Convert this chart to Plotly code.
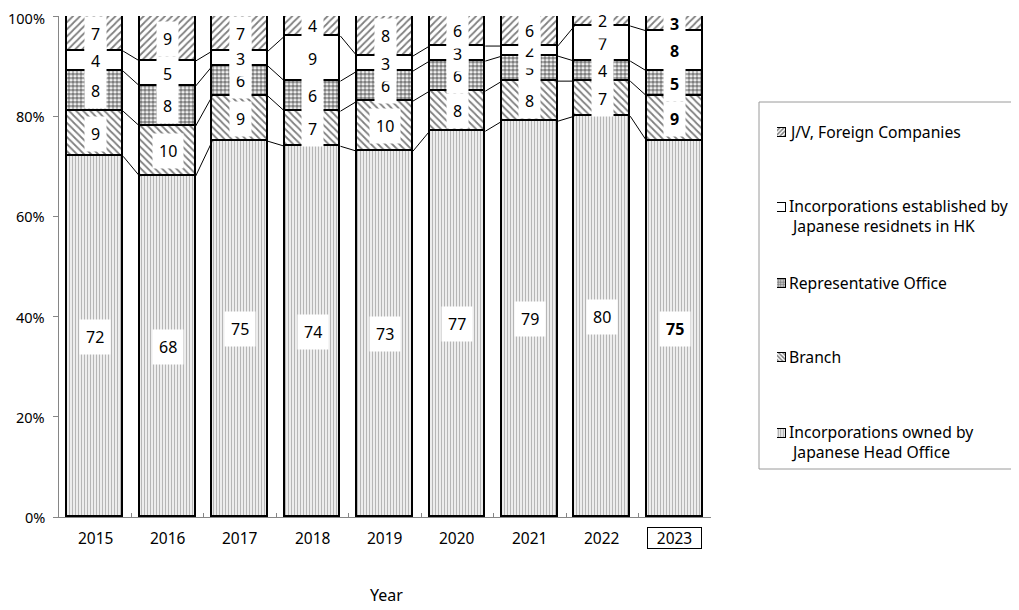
import plotly.graph_objects as go

years = ["2015", "2016", "2017", "2018", "2019", "2020", "2021", "2022", "2023"]
head_office = [72, 68, 75, 74, 73, 77, 79, 80, 75]
branch = [9, 10, 9, 7, 10, 8, 8, 7, 9]
rep_office = [8, 8, 6, 6, 6, 6, 5, 4, 5]
residents = [4, 5, 3, 9, 3, 3, 2, 7, 8]
jv_foreign = [7, 9, 7, 4, 8, 6, 6, 2, 3]

series_names = [
    "Incorporations owned by<br>&nbsp;Japanese Head Office",
    "Branch",
    "Representative Office",
    "Incorporations established by<br>&nbsp;Japanese residnets in HK",
    "J/V, Foreign Companies",
]
y_ticks = [0, 20, 40, 60, 80, 100]
y_tick_labels = ["0%", "20%", "40%", "60%", "80%", "100%"]

FONT = "Noto Sans"
OFF = 8  # page body margin
W, H = 1011, 602
ML, MR, MT, MB = 51, 0, 8, 93
PW = W - ML - MR
PH = H - MT - MB


def px_x(px):
    return (px - OFF - ML) / PW


def px_y(py):
    return (H - MB - (py - OFF)) / PH


series = [head_office, branch, rep_office, residents, jv_foreign]
patterns = [
    dict(shape="|", fgcolor="#6e6e6e", bgcolor="white", size=3, solidity=0.5),
    dict(shape="\\", fgcolor="black", bgcolor="white", size=5, solidity=0.35),
    dict(shape=".", fgcolor="black", bgcolor="white", size=4, solidity=0.68),
    dict(shape="", fgcolor="black", bgcolor="white"),
    dict(shape="/", fgcolor="black", bgcolor="white", size=5, solidity=0.35),
]
swatch_patterns = [
    dict(shape="|", fgcolor="#444444", bgcolor="white", size=2.5, solidity=0.5),
    dict(shape="\\", fgcolor="black", bgcolor="white", size=3, solidity=0.5),
    dict(shape=".", fgcolor="black", bgcolor="white", size=2.5, solidity=0.7),
    dict(shape="", fgcolor="black", bgcolor="white"),
    dict(shape="/", fgcolor="black", bgcolor="white", size=3, solidity=0.5),
]

BW = 0.77
xs = list(range(len(years)))

fig = go.Figure()

# series lines (between bars)
cum = [0] * len(years)
tops = []
for s in series:
    cum = [c + v for c, v in zip(cum, s)]
    tops.append(list(cum))
for t in tops[:-1]:
    lx, ly = [], []
    for i in range(len(years) - 1):
        lx += [xs[i] + BW / 2, xs[i + 1] - BW / 2, None]
        ly += [t[i], t[i + 1], None]
    fig.add_trace(go.Scatter(x=lx, y=ly, mode="lines", line=dict(color="black", width=1),
                             showlegend=False, hoverinfo="skip"))

for name, s, pat in zip(series_names, series, patterns):
    fig.add_trace(go.Bar(
        x=xs, y=s, name=name.replace("<br>&nbsp;", " "), width=BW,
        marker=dict(color="white", pattern=pat, line=dict(color="black", width=1.6)),
        showlegend=False,
    ))

# data labels
annotations = []
cum = [0] * len(years)
for s in series:
    for i, v in enumerate(s):
        mid = cum[i] + v / 2
        txt = f"<b>{v}</b>" if years[i] == "2023" else str(v)
        annotations.append(dict(
            x=xs[i], y=mid, xref="x", yref="y", text=txt, showarrow=False,
            xanchor="center", yanchor="middle",
            bgcolor="white", borderpad=6, font=dict(family=FONT, size=16, color="black"),
        ))
    cum = [c + v for c, v in zip(cum, s)]

# x tick labels
for i, yr in enumerate(years):
    a = dict(x=xs[i], y=0, xref="x", yref="paper", xanchor="center", yanchor="middle",
             yshift=-21, text=yr, showarrow=False,
             font=dict(family=FONT, size=15.5, color="black"))
    if yr == "2023":
        a.update(bordercolor="black", borderwidth=1, width=53, height=20, borderpad=0)
    annotations.append(a)

# y tick labels
for v, lab in zip(y_ticks, y_tick_labels):
    annotations.append(dict(x=0, y=v, xref="paper", yref="y", xanchor="right",
                            yanchor="middle", xshift=-12, yshift=-2 if v == 100 else 0,
                            text=lab, showarrow=False,
                            font=dict(family=FONT, size=14.5, color="black")))

annotations.append(dict(x=px_x(386), y=px_y(595), xref="paper", yref="paper",
                        xanchor="center", yanchor="middle",
                        text="Year", showarrow=False,
                        font=dict(family=FONT, size=16, color="black")))

# custom legend
legend_y = [442, 357, 283, 216, 132]
swatch_y = [433, 357, 283, 207, 132]
for name, ly in zip(series_names, legend_y):
    annotations.append(dict(x=px_x(787), y=px_y(ly), xref="paper", yref="paper",
                            xanchor="left", yanchor="middle", align="left",
                            text=name, showarrow=False,
                            font=dict(family=FONT, size=15.7, color="black")))
for pat, sy in zip(swatch_patterns, swatch_y):
    fig.add_trace(go.Bar(
        x=[0.5], y=[9], base=[sy - 4.5], width=[1], xaxis="x2", yaxis="y2",
        marker=dict(color="white", pattern=pat, line=dict(color="black", width=1.5)),
        showlegend=False, hoverinfo="skip",
    ))

shapes = [dict(type="rect", xref="paper", yref="paper",
               x0=px_x(759), x1=px_x(1016), y0=px_y(469), y1=px_y(102),
               line=dict(color="#9a9a9a", width=1), fillcolor="rgba(0,0,0,0)", layer="below")]

fig.update_layout(
    width=W, height=H,
    margin=dict(l=ML, r=MR, t=MT, b=MB),
    barmode="stack", bargap=0,
    plot_bgcolor="white", paper_bgcolor="white",
    font=dict(family=FONT, size=14, color="black"),
    annotations=annotations, shapes=shapes,
    xaxis=dict(domain=[0, px_x(711)], range=[-0.5, len(years) - 0.5],
               tickvals=[k - 0.5 for k in range(len(years) + 1)], showticklabels=False,
               ticks="inside", ticklen=4, tickcolor="#868686",
               showline=True, linecolor="#868686", linewidth=1, showgrid=False, zeroline=False),
    yaxis=dict(range=[0, 100], tickvals=y_ticks, showticklabels=False,
               ticks="outside", ticklen=5, tickcolor="#868686",
               showline=True, linecolor="#868686", linewidth=1, showgrid=False, zeroline=False),
    xaxis2=dict(domain=[px_x(777), px_x(786)], range=[0, 1], visible=False, anchor="y2"),
    yaxis2=dict(domain=[0, 1], range=[H - MB + OFF, MT + OFF], visible=False, anchor="x2"),
)

fig.write_html("out.html")
